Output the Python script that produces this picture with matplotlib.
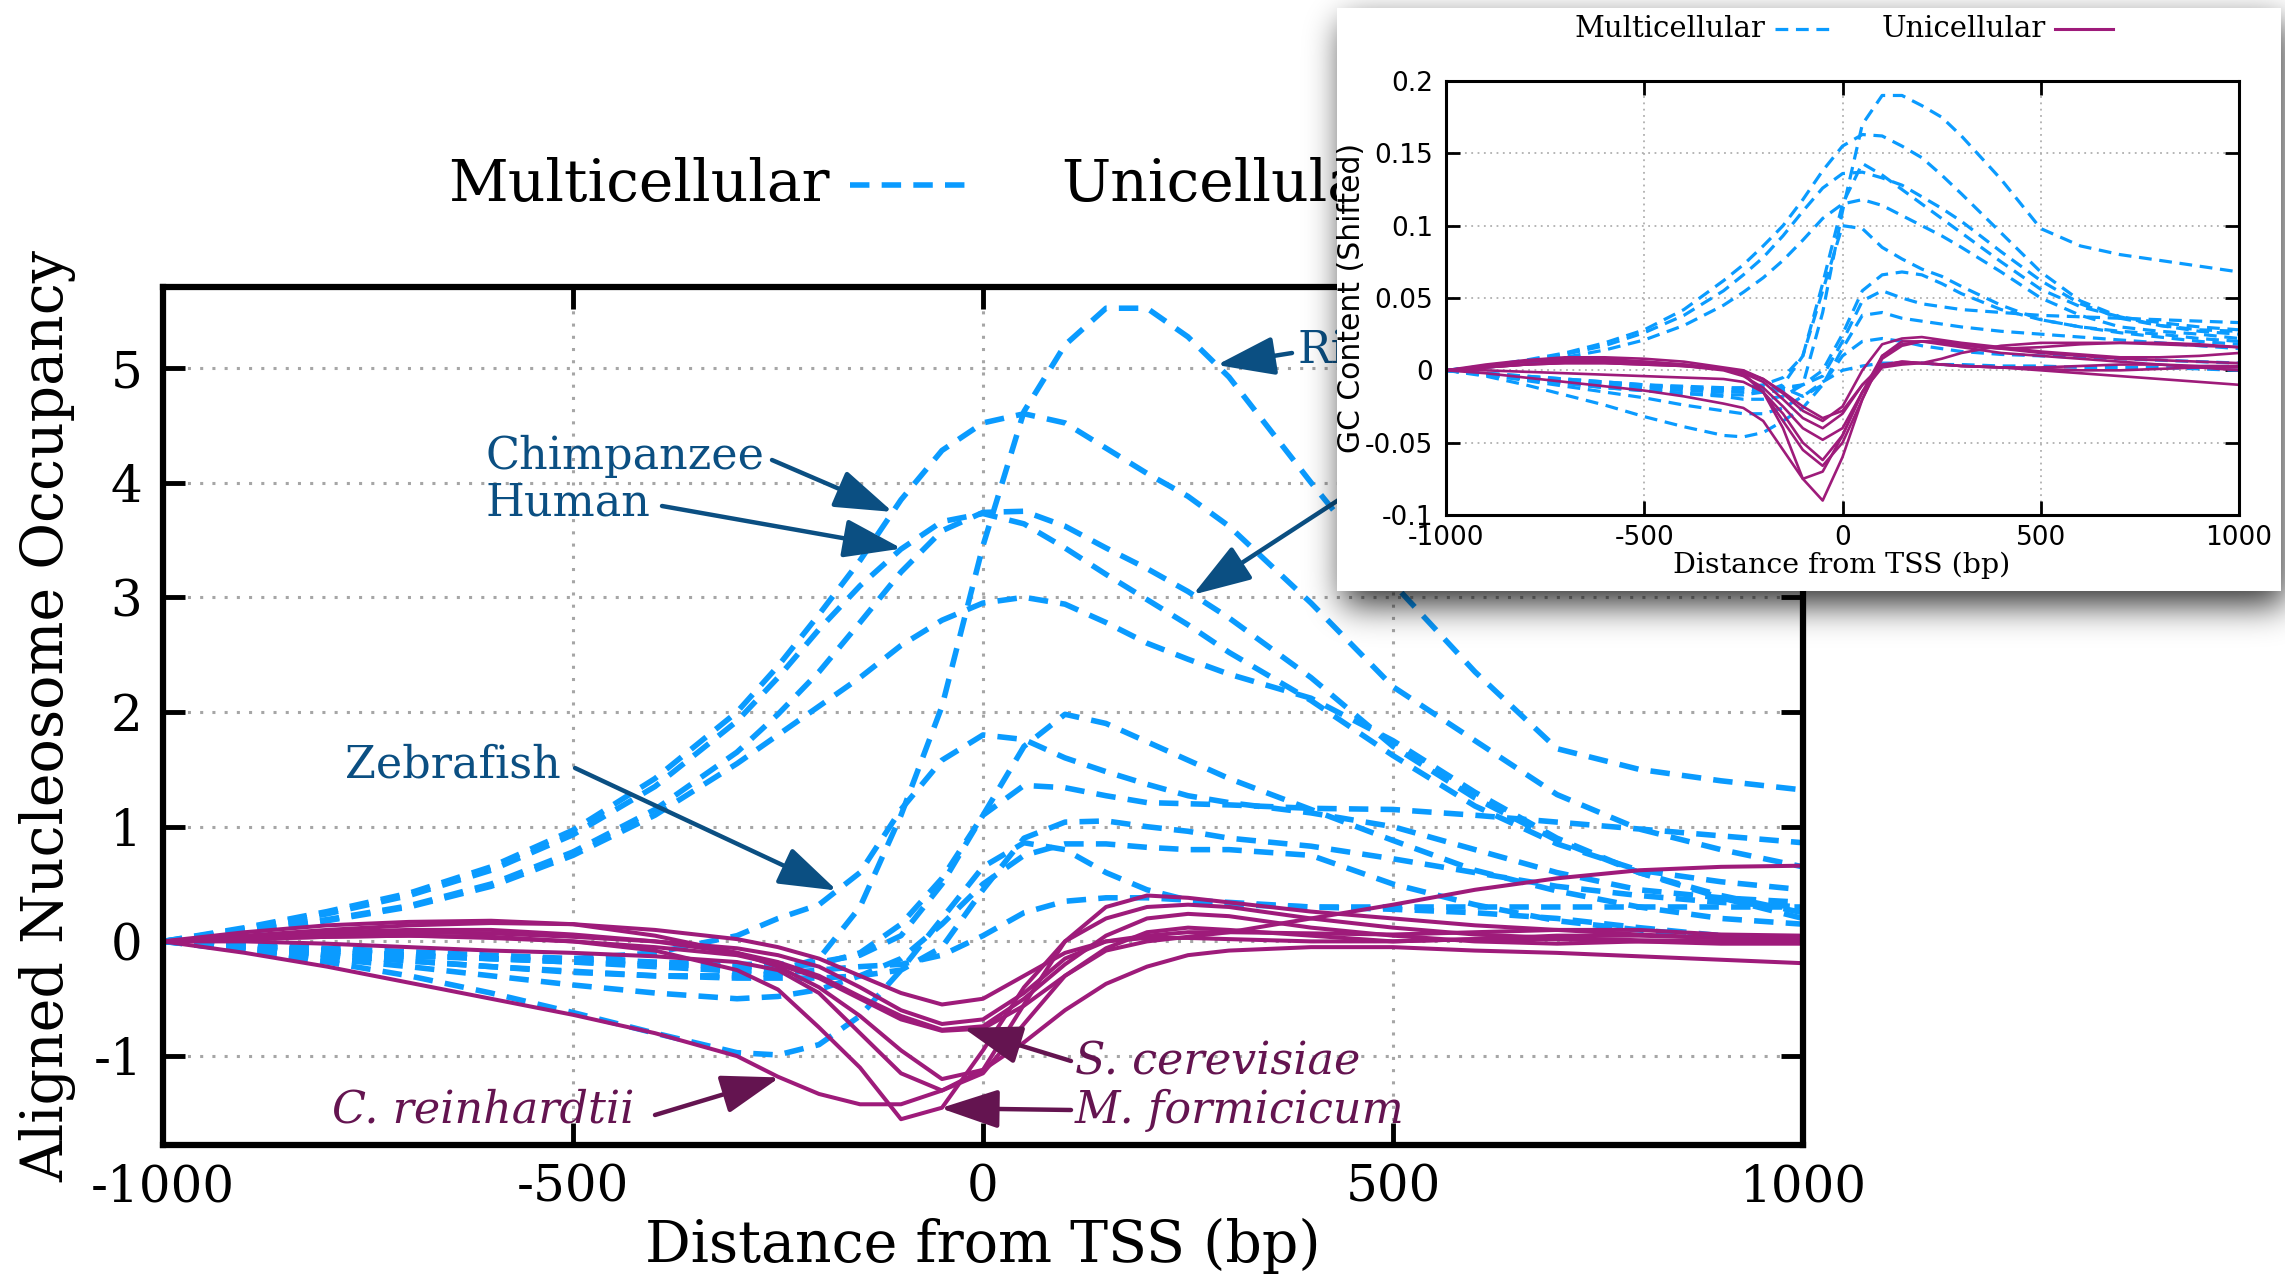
import numpy as np
import matplotlib
matplotlib.use("Agg")
import matplotlib.pyplot as plt
from matplotlib.lines import Line2D

plt.rcParams["axes.unicode_minus"] = False

# ---------------------------------------------------------------- data
distance_bp = [-1000, -900, -800, -700, -600, -500, -400, -300, -250, -200, -150, -100, -50,
               0, 50, 100, 150, 200, 250, 300, 400, 500, 600, 700, 800, 900, 1000]

# Aligned nucleosome occupancy, multicellular species
rice = [0, -0.04, -0.08, -0.12, -0.15, -0.18, -0.22, -0.26, -0.25, -0.15, 0.3, 1.1, 2.05,
        3.45, 4.62, 5.2, 5.52, 5.52, 5.27, 4.92, 4.0, 3.12, 2.35, 1.68, 1.5, 1.4, 1.32]
chimpanzee = [0, 0.12, 0.26, 0.42, 0.65, 0.97, 1.42, 2.0, 2.4, 2.85, 3.32, 3.85, 4.28,
              4.52, 4.6, 4.52, 4.3, 4.08, 3.88, 3.62, 2.95, 2.22, 1.75, 1.28, 0.98, 0.8, 0.65]
human = [0, 0.11, 0.24, 0.4, 0.62, 0.93, 1.35, 1.92, 2.3, 2.72, 3.1, 3.42, 3.66,
         3.73, 3.64, 3.43, 3.2, 2.98, 2.76, 2.52, 2.1, 1.62, 1.18, 0.85, 0.62, 0.52, 0.45]
multi_d = [0, 0.09, 0.19, 0.31, 0.5, 0.78, 1.15, 1.65, 1.98, 2.35, 2.78, 3.22, 3.58,
           3.74, 3.75, 3.62, 3.43, 3.25, 3.05, 2.82, 2.3, 1.7, 1.25, 0.88, 0.6, 0.4, 0.25]
multi_e = [0, 0.08, 0.18, 0.3, 0.48, 0.75, 1.1, 1.55, 1.8, 2.05, 2.3, 2.58, 2.8,
           2.95, 3.0, 2.94, 2.78, 2.6, 2.46, 2.33, 2.12, 1.75, 1.3, 0.9, 0.6, 0.38, 0.2]
zebrafish = [0, -0.05, -0.1, -0.13, -0.15, -0.15, -0.1, 0.05, 0.2, 0.32, 0.6, 1.15, 1.58,
             1.8, 1.76, 1.6, 1.48, 1.37, 1.27, 1.21, 1.12, 1.0, 0.8, 0.6, 0.45, 0.38, 0.34]
multi_g = [0, -0.04, -0.08, -0.12, -0.15, -0.18, -0.2, -0.22, -0.22, -0.2, -0.1, 0.15, 0.55,
           1.1, 1.7, 1.98, 1.9, 1.74, 1.58, 1.42, 1.15, 0.88, 0.62, 0.44, 0.3, 0.2, 0.15]
multi_h = [0, -0.03, -0.06, -0.09, -0.12, -0.15, -0.18, -0.2, -0.2, -0.18, -0.12, 0.05, 0.5,
           1.1, 1.36, 1.34, 1.27, 1.21, 1.2, 1.19, 1.16, 1.15, 1.1, 1.04, 0.98, 0.92, 0.86]
multi_i = [0, -0.06, -0.12, -0.17, -0.22, -0.27, -0.3, -0.32, -0.32, -0.32, -0.3, -0.25, -0.05,
           0.45, 0.9, 1.04, 1.05, 1.0, 0.96, 0.9, 0.83, 0.72, 0.6, 0.48, 0.4, 0.34, 0.3]
multi_j = [0, -0.08, -0.18, -0.3, -0.45, -0.62, -0.8, -0.97, -0.99, -0.9, -0.65, -0.25, 0.2,
           0.65, 0.86, 0.8, 0.6, 0.45, 0.36, 0.32, 0.3, 0.3, 0.3, 0.3, 0.3, 0.3, 0.3]
multi_k = [0, -0.08, -0.15, -0.22, -0.3, -0.38, -0.45, -0.5, -0.48, -0.42, -0.3, -0.15, 0.15,
           0.5, 0.75, 0.85, 0.85, 0.82, 0.8, 0.8, 0.75, 0.5, 0.32, 0.18, 0.1, 0.04, 0.0]
multi_l = [0, -0.06, -0.12, -0.17, -0.22, -0.26, -0.3, -0.3, -0.28, -0.25, -0.22, -0.2, -0.12,
           0.05, 0.25, 0.35, 0.38, 0.38, 0.36, 0.34, 0.3, 0.28, 0.25, 0.2, 0.12, 0.05, 0.0]

# Aligned nucleosome occupancy, unicellular species
reinhardtii = [0, -0.1, -0.22, -0.36, -0.5, -0.64, -0.8, -1.0, -1.18, -1.33, -1.42, -1.42, -1.3,
               -1.12, -0.88, -0.6, -0.37, -0.22, -0.12, -0.08, -0.05, -0.05, -0.08, -0.1, -0.13, -0.16, -0.19]
formicicum = [0, 0.02, 0.04, 0.05, 0.04, 0.0, -0.08, -0.25, -0.42, -0.75, -1.1, -1.55, -1.45,
              -0.95, -0.4, 0.0, 0.2, 0.3, 0.32, 0.3, 0.2, 0.12, 0.06, 0.03, 0.01, 0.0, 0.0]
cerevisiae = [0, 0.04, 0.08, 0.1, 0.1, 0.06, 0.0, -0.1, -0.18, -0.3, -0.48, -0.65, -0.77,
              -0.74, -0.5, -0.2, 0.05, 0.2, 0.24, 0.22, 0.12, 0.05, 0.0, -0.02, 0.0, 0.0, 0.0]
uni_d = [0, 0.05, 0.1, 0.14, 0.16, 0.15, 0.1, 0.02, -0.05, -0.15, -0.3, -0.45, -0.55,
         -0.5, -0.3, -0.1, 0.0, 0.03, 0.03, 0.02, 0.0, 0.0, 0.02, 0.02, 0.0, -0.02, -0.02]
uni_e = [0, 0.02, 0.04, 0.05, 0.03, 0.0, -0.05, -0.12, -0.2, -0.32, -0.5, -0.68, -0.78,
         -0.76, -0.56, -0.3, -0.06, 0.08, 0.12, 0.1, 0.05, 0.0, 0.02, 0.05, 0.05, 0.03, 0.02]
uni_f = [0, 0.08, 0.14, 0.17, 0.18, 0.15, 0.05, -0.1, -0.22, -0.4, -0.65, -0.95, -1.2,
         -1.12, -0.55, 0.0, 0.3, 0.4, 0.38, 0.34, 0.26, 0.2, 0.14, 0.1, 0.06, 0.03, 0.0]
uni_g = [0, 0.0, -0.02, -0.05, -0.08, -0.1, -0.13, -0.18, -0.25, -0.45, -0.8, -1.15, -1.3,
         -1.15, -0.72, -0.3, -0.08, 0.0, 0.04, 0.08, 0.2, 0.32, 0.45, 0.55, 0.62, 0.65, 0.66]
uni_h = [0, 0.03, 0.06, 0.08, 0.07, 0.04, 0.0, -0.06, -0.12, -0.22, -0.4, -0.6, -0.72,
         -0.68, -0.45, -0.15, 0.0, 0.05, 0.08, 0.08, 0.07, 0.06, 0.08, 0.1, 0.1, 0.06, 0.05]

# GC content (shifted), multicellular species
gc_rice = [0, -0.003, -0.006, -0.009, -0.012, -0.014, -0.016, -0.018, -0.02, -0.02, -0.018, -0.01, 0.04,
           0.11, 0.17, 0.19, 0.19, 0.183, 0.175, 0.162, 0.132, 0.098, 0.086, 0.08, 0.076, 0.072, 0.068]
gc_chimpanzee = [0, 0.003, 0.007, 0.012, 0.019, 0.028, 0.042, 0.062, 0.073, 0.086, 0.1, 0.118, 0.138,
                 0.155, 0.163, 0.162, 0.155, 0.147, 0.135, 0.122, 0.095, 0.068, 0.048, 0.037, 0.031, 0.027, 0.025]
gc_human = [0, 0.003, 0.006, 0.011, 0.017, 0.026, 0.038, 0.055, 0.066, 0.078, 0.093, 0.11, 0.126,
            0.136, 0.137, 0.133, 0.128, 0.12, 0.112, 0.103, 0.082, 0.062, 0.046, 0.036, 0.031, 0.028, 0.027]
gc_multi_d = [0, -0.002, -0.004, -0.006, -0.008, -0.01, -0.011, -0.012, -0.012, -0.01, -0.005, 0.01, 0.06,
              0.115, 0.143, 0.135, 0.125, 0.115, 0.105, 0.095, 0.075, 0.056, 0.044, 0.037, 0.033, 0.03, 0.028]
gc_multi_e = [0, 0.002, 0.005, 0.009, 0.014, 0.021, 0.031, 0.045, 0.054, 0.064, 0.076, 0.09, 0.105,
              0.115, 0.118, 0.114, 0.107, 0.1, 0.093, 0.085, 0.068, 0.05, 0.038, 0.03, 0.027, 0.025, 0.022]
gc_zebrafish = [0, -0.003, -0.006, -0.009, -0.012, -0.014, -0.016, -0.017, -0.017, -0.015, -0.01, 0.01, 0.055,
                0.1, 0.098, 0.085, 0.077, 0.07, 0.065, 0.058, 0.045, 0.035, 0.03, 0.027, 0.025, 0.022, 0.02]
gc_multi_g = [0, -0.002, -0.004, -0.006, -0.008, -0.01, -0.012, -0.014, -0.015, -0.015, -0.014, -0.01, 0.0,
              0.025, 0.055, 0.066, 0.068, 0.066, 0.06, 0.053, 0.042, 0.035, 0.03, 0.026, 0.023, 0.02, 0.018]
gc_multi_h = [0, -0.003, -0.006, -0.008, -0.01, -0.012, -0.014, -0.015, -0.015, -0.014, -0.012, -0.01, -0.004,
              0.02, 0.048, 0.055, 0.05, 0.046, 0.044, 0.042, 0.04, 0.038, 0.037, 0.036, 0.035, 0.034, 0.033]
gc_multi_i = [0, -0.003, -0.005, -0.007, -0.009, -0.011, -0.012, -0.013, -0.013, -0.012, -0.012, -0.018, -0.01,
              0.015, 0.038, 0.04, 0.036, 0.034, 0.032, 0.03, 0.027, 0.025, 0.023, 0.021, 0.019, 0.017, 0.015]
gc_multi_j = [0, -0.004, -0.01, -0.017, -0.024, -0.032, -0.039, -0.045, -0.046, -0.043, -0.035, -0.026, -0.01,
              0.01, 0.02, 0.022, 0.02, 0.017, 0.015, 0.013, 0.011, 0.01, 0.009, 0.008, 0.007, 0.006, 0.005]
gc_multi_k = [0, -0.003, -0.007, -0.011, -0.015, -0.019, -0.024, -0.028, -0.03, -0.03, -0.026, -0.018, -0.008,
              0.0, 0.003, 0.005, 0.005, 0.005, 0.004, 0.004, 0.003, 0.003, 0.002, 0.002, 0.002, 0.001, 0.0]

# GC content (shifted), unicellular species
gc_reinhardtii = [0, -0.002, -0.005, -0.008, -0.011, -0.014, -0.018, -0.023, -0.026, -0.035, -0.055, -0.075, -0.07,
                  -0.045, -0.015, 0.01, 0.02, 0.02, 0.018, 0.016, 0.012, 0.01, 0.008, 0.006, 0.004, 0.002, 0.0]
gc_formicicum = [0, 0.002, 0.004, 0.005, 0.005, 0.004, 0.003, 0.001, -0.002, -0.015, -0.04, -0.075, -0.09,
                 -0.06, -0.02, 0.01, 0.018, 0.02, 0.019, 0.017, 0.015, 0.016, 0.018, 0.019, 0.019, 0.018, 0.016]
gc_cerevisiae = [0, 0.003, 0.006, 0.007, 0.007, 0.006, 0.004, 0.001, -0.003, -0.015, -0.035, -0.055, -0.066,
                 -0.05, -0.02, 0.008, 0.017, 0.02, 0.02, 0.018, 0.015, 0.012, 0.01, 0.008, 0.007, 0.006, 0.005]
gc_uni_d = [0, 0.002, 0.004, 0.006, 0.006, 0.005, 0.003, 0.0, -0.004, -0.012, -0.025, -0.04, -0.048,
            -0.04, -0.015, 0.003, 0.006, 0.005, 0.004, 0.003, 0.002, 0.002, 0.003, 0.004, 0.004, 0.003, 0.003]
gc_uni_e = [0, 0.003, 0.006, 0.008, 0.008, 0.006, 0.004, 0.001, -0.002, -0.008, -0.02, -0.033, -0.04,
            -0.03, -0.01, 0.004, 0.006, 0.005, 0.004, 0.003, 0.002, 0.001, 0.0, 0.0, 0.001, 0.002, 0.002]
gc_uni_f = [0, 0.004, 0.007, 0.009, 0.009, 0.008, 0.006, 0.002, 0.0, -0.006, -0.016, -0.028, -0.035,
            -0.025, 0.0, 0.018, 0.022, 0.023, 0.021, 0.019, 0.016, 0.013, 0.011, 0.009, 0.009, 0.01, 0.012]
gc_uni_g = [0, 0.0, -0.001, -0.002, -0.003, -0.004, -0.005, -0.006, -0.008, -0.015, -0.03, -0.05, -0.062,
            -0.045, -0.015, 0.002, 0.004, 0.005, 0.008, 0.012, 0.017, 0.019, 0.019, 0.019, 0.018, 0.017, 0.016]
gc_uni_h = [0, 0.002, 0.004, 0.005, 0.005, 0.004, 0.003, 0.001, -0.001, -0.006, -0.015, -0.025, -0.033,
            -0.028, -0.01, 0.003, 0.005, 0.005, 0.004, 0.003, 0.002, 0.0, -0.002, -0.004, -0.006, -0.008, -0.01]

occupancy_ticks = [-1, 0, 1, 2, 3, 4, 5]
distance_ticks = [-1000, -500, 0, 500, 1000]
gc_ticks = [-0.1, -0.05, 0, 0.05, 0.1, 0.15, 0.2]
gc_tick_labels = ["-0.1", "-0.05", "0", "0.05", "0.1", "0.15", "0.2"]

multicellular = [rice, chimpanzee, human, multi_d, multi_e, zebrafish,
                 multi_g, multi_h, multi_i, multi_j, multi_k, multi_l]
unicellular = [reinhardtii, formicicum, cerevisiae, uni_d, uni_e, uni_f, uni_g, uni_h]
gc_multicellular = [gc_rice, gc_chimpanzee, gc_human, gc_multi_d, gc_multi_e, gc_zebrafish,
                    gc_multi_g, gc_multi_h, gc_multi_i, gc_multi_j, gc_multi_k]
gc_unicellular = [gc_reinhardtii, gc_formicicum, gc_cerevisiae, gc_uni_d, gc_uni_e,
                  gc_uni_f, gc_uni_g, gc_uni_h]

# ---------------------------------------------------------------- style
BLUE = "#0a9bff"
PURPLE = "#9e1b7a"
LABEL_BLUE = "#0b4f82"
LABEL_PURPLE = "#641450"
SERIF = "DejaVu Serif"
SANS = "DejaVu Sans"

W, H = 2285, 1282
fig = plt.figure(figsize=(W / 100, H / 100), dpi=100)
fig.patch.set_facecolor("white")


def box(left, top, right, bottom):
    """Figure-fraction rectangle from pixel edges measured from the top-left."""
    return [left / W, 1 - bottom / H, (right - left) / W, (bottom - top) / H]


# ---------------------------------------------------------------- main panel
ax = fig.add_axes(box(163, 287, 1803, 1145), zorder=1)
for series in multicellular:
    ax.plot(distance_bp, series, color=BLUE, lw=4, linestyle=(0, (3.5, 2.2)))
for series in unicellular:
    ax.plot(distance_bp, series, color=PURPLE, lw=2.9)

ax.set_xlim(-1000, 1000)
ax.set_ylim(-1.775, 5.705)
ax.set_xticks(distance_ticks)
ax.set_yticks(occupancy_ticks)
ax.grid(True, color="#a6a6a6", linestyle=(0, (1, 3)), linewidth=2.2)
ax.tick_params(direction="in", length=16, width=3.5, top=True, right=True,
               labelsize=36)
ax.tick_params(axis="y", pad=15)
ax.tick_params(axis="x", pad=13)
for lab in ax.get_xticklabels() + ax.get_yticklabels():
    lab.set_fontfamily(SERIF)
for sp in ax.spines.values():
    sp.set_linewidth(4.5)

fig.text(983 / W, 1 - 1246 / H, "Distance from TSS (bp)", family=SERIF,
         fontsize=41, ha="center", va="center")
fig.text(48 / W, 1 - 716 / H, "Aligned Nucleosome Occupancy", family=SERIF,
         fontsize=41, ha="center", va="center", rotation=90)

# legend row above the main panel
fig.text(830 / W, 1 - 185 / H, "Multicellular", family=SERIF, fontsize=42,
         ha="right", va="center")
fig.add_artist(Line2D([850 / W, 965 / W], [1 - 185 / H] * 2, color=BLUE, lw=4,
                      linestyle=(0, (3.5, 2.2))))
fig.text(1061 / W, 1 - 185 / H, "Unicellular", family=SERIF, fontsize=42,
         ha="left", va="center")
fig.add_artist(Line2D([1380 / W, 1495 / W], [1 - 185 / H] * 2, color=PURPLE, lw=3))


def pix(px, py):
    return (px, H - py)


def pointer(series, x_at, start_px, color):
    tip = (x_at, float(np.interp(x_at, distance_bp, series)))
    ax.annotate("", xy=tip, xycoords="data", xytext=pix(*start_px),
                textcoords="figure pixels", annotation_clip=False,
                arrowprops=dict(arrowstyle="-|>,head_length=0.9,head_width=0.3",
                                mutation_scale=40, lw=3.2, color=color,
                                shrinkA=0, shrinkB=0))


def tag(text, left_px, center_py, color, italic=False):
    ax.annotate(text, xy=pix(left_px, center_py), xycoords="figure pixels",
                ha="left", va="center", fontsize=32, color=color, family=SERIF,
                style="italic" if italic else "normal", annotation_clip=False)


tag("Chimpanzee", 485, 456, LABEL_BLUE)
pointer(chimpanzee, -110, (772, 460), LABEL_BLUE)
tag("Human", 485, 503, LABEL_BLUE)
pointer(human, -99, (662, 506), LABEL_BLUE)
tag("Zebrafish", 345, 765, LABEL_BLUE)
pointer(zebrafish, -178, (575, 768), LABEL_BLUE)
tag("Rice", 1297, 351, LABEL_BLUE)
pointer(rice, 285, (1292, 353), LABEL_BLUE)
pointer(multi_d, 256, (1400, 460), LABEL_BLUE)

tag("C. reinhardtii", 332, 1110, LABEL_PURPLE, italic=True)
pointer(reinhardtii, -248, (655, 1115), LABEL_PURPLE)
tag("S. cerevisiae", 1075, 1062, LABEL_PURPLE, italic=True)
pointer(cerevisiae, -24, (1071, 1061), LABEL_PURPLE)
tag("M. formicicum", 1075, 1110, LABEL_PURPLE, italic=True)
pointer(formicicum, -52, (1071, 1110), LABEL_PURPLE)

# ---------------------------------------------------------------- drop shadow of the inset card
card = (1337, 8, 2281, 591)


def gauss_blur(a, sigma):
    r = int(3 * sigma)
    k = np.exp(-0.5 * (np.arange(-r, r + 1) / sigma) ** 2)
    k /= k.sum()
    a = np.apply_along_axis(lambda v: np.convolve(v, k, mode="same"), 0, a)
    a = np.apply_along_axis(lambda v: np.convolve(v, k, mode="same"), 1, a)
    return a


mask = np.zeros((H, W))
mask[card[1] + 14:card[3] + 14, card[0] + 6:card[2] + 12] = 1.0
shade = gauss_blur(mask, 17) * 0.8
rgba = np.zeros((H, W, 4))
rgba[..., 3] = shade
sh_ax = fig.add_axes([0, 0, 1, 1], zorder=4)
sh_ax.imshow(rgba, extent=(0, W, H, 0), aspect="auto", interpolation="bilinear")
sh_ax.set_xlim(0, W)
sh_ax.set_ylim(H, 0)
sh_ax.axis("off")

card_ax = fig.add_axes(box(*card), zorder=5)
card_ax.set_facecolor("white")
card_ax.set_xticks([])
card_ax.set_yticks([])
for sp in card_ax.spines.values():
    sp.set_visible(False)

# ---------------------------------------------------------------- inset panel
ins = fig.add_axes(box(1446, 81, 2239, 515), zorder=6)
ins.set_facecolor("white")
for series in gc_multicellular:
    ins.plot(distance_bp, series, color=BLUE, lw=2.3, linestyle=(0, (4, 2.4)))
for series in gc_unicellular:
    ins.plot(distance_bp, series, color=PURPLE, lw=1.9)
ins.set_xlim(-1000, 1000)
ins.set_ylim(-0.1, 0.2)
ins.set_xticks(distance_ticks)
ins.set_yticks(gc_ticks)
ins.set_yticklabels(gc_tick_labels)
ins.grid(True, color="#b0b0b0", linestyle=(0, (1, 2.5)), linewidth=1.3)
ins.tick_params(direction="in", length=10, width=2, top=True, right=True,
                labelsize=19)
ins.tick_params(axis="y", pad=9)
ins.tick_params(axis="x", pad=7)
for lab in ins.get_xticklabels() + ins.get_yticklabels():
    lab.set_fontfamily(SANS)
for sp in ins.spines.values():
    sp.set_linewidth(2.2)

fig.text(1842 / W, 1 - 565 / H, "Distance from TSS (bp)", family=SERIF,
         fontsize=20.5, ha="center", va="center", zorder=7)
fig.text(1351 / W, 1 - 298 / H, "GC Content (Shifted)", family=SANS,
         fontsize=21.5, ha="center", va="center", rotation=90, zorder=7)

fig.text(1765 / W, 1 - 29 / H, "Multicellular", family=SERIF, fontsize=21,
         ha="right", va="center", zorder=7)
fig.add_artist(Line2D([1775 / W, 1835 / W], [1 - 29 / H] * 2, color=BLUE, lw=2.3,
                      linestyle=(0, (4, 2.4)), zorder=7))
fig.text(2046 / W, 1 - 29 / H, "Unicellular", family=SERIF, fontsize=21,
         ha="right", va="center", zorder=7)
fig.add_artist(Line2D([2055 / W, 2113 / W], [1 - 29 / H] * 2, color=PURPLE, lw=2.2,
                      zorder=7))

fig.savefig("out.png", dpi=100, facecolor="white")
